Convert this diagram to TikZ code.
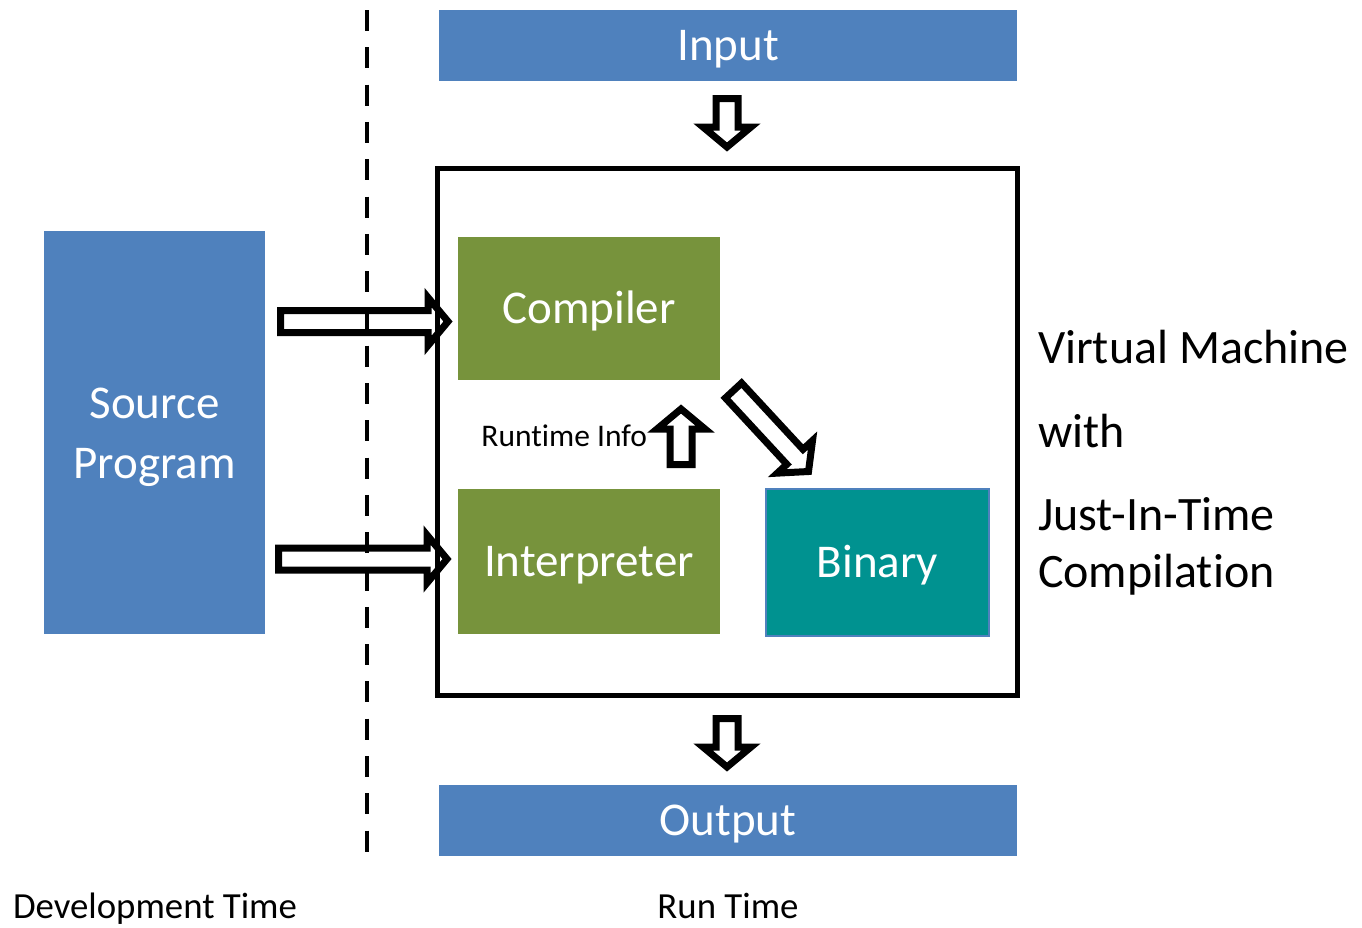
\documentclass[tikz,border=0pt]{standalone}
\usepackage{fontspec}
\setmainfont{Carlito}[Ligatures=NoCommon]
\usetikzlibrary{calc}
\definecolor{vmblue}{HTML}{4F81BD}
\definecolor{vmgreen}{HTML}{77933C}
\definecolor{vmteal}{HTML}{009290}
\begin{document}
\begin{tikzpicture}[x=1pt,y=-1pt,
  box/.style={rectangle, inner sep=0pt, outer sep=0pt, text=white,
    font=\fontsize{47}{60}\selectfont},
  capbox/.style={box, text height=29.7pt, text depth=0pt},
  plain/.style={inner sep=0pt, outer sep=0pt, text=black},
  side/.style={plain, anchor=base west, font=\fontsize{48}{58}\selectfont},
  foot/.style={plain, font=\fontsize{36.8}{44}\selectfont},
  frame/.style={draw=black, line width=5pt, inner sep=0pt, outer sep=0pt},
  divider/.style={line width=4.5pt, dash pattern=on 21pt off 16.3pt},
  % hollow block arrow running from the start point to the tip
  hollow/.style={draw=black, fill=white, line width=7pt, line join=miter, miter limit=10,
    to path={let \p1=($(\tikztotarget)-(\tikztostart)$), \n2={atan2(\y1,\x1)} in
      ($(\tikztostart)+(\n2+90:11pt)$)
      -- ($(\tikztotarget)+(\n2+180:20pt)+(\n2+90:11pt)$)
      -- ($(\tikztotarget)+(\n2+180:20pt)+(\n2+90:24pt)$)
      -- (\tikztotarget)
      -- ($(\tikztotarget)+(\n2+180:20pt)+(\n2-90:24pt)$)
      -- ($(\tikztotarget)+(\n2+180:20pt)+(\n2-90:11pt)$)
      -- ($(\tikztostart)+(\n2-90:11pt)$) -- cycle}},
]
\fill[white] (0,0) rectangle (1362,927);
\useasboundingbox (0,0) rectangle (1362,927);

% end points of the block arrows
\coordinate (srcA) at (280.5,321.5);
\coordinate (compA) at (448,321.5);
\coordinate (srcB) at (278.5,559);
\coordinate (interpA) at (447,559);
\coordinate (inA) at (727,98.5);
\coordinate (vmA) at (727,147);
\coordinate (vmB) at (727,718.5);
\coordinate (outA) at (727,767);
\coordinate (interpB) at (681,464.5);
\coordinate (compB) at (681,409);
\coordinate (compC) at (733.5,390.5);
\coordinate (binA) at (808.5,471.5);

\draw[hollow] (srcA) to (compA);
\draw[hollow] (srcB) to (interpA);
\draw[hollow] (inA) to (vmA);
\draw[hollow] (vmB) to (outA);
\draw[hollow] (interpB) to (compB);
\draw[hollow] (compC) to (binA);

% development time / run time divider
\coordinate (dtop) at (367,10);
\coordinate (dbot) at (367,853);
\draw[divider] (dtop) -- (dbot);

% boxes
\node[capbox, fill=vmblue, minimum width=578pt, minimum height=71pt] (in) at (728,45.5) {Input};
\node[capbox, fill=vmblue, minimum width=578pt, minimum height=71pt] (out) at (728,820.5) {Output};
\node[box, fill=vmblue, minimum width=221pt, minimum height=403pt, text height=100pt, text depth=9pt] (src) at (154.5,432.5)
  {\begin{tabular}[b]{@{}c@{}}Source\\Program\end{tabular}};
\node[frame, minimum width=580pt, minimum height=527pt] (vm) at (727.5,432) {};
\node[capbox, fill=vmgreen, minimum width=262pt, minimum height=143pt] (comp) at (589,308.5) {Compiler};
\node[capbox, fill=vmgreen, minimum width=262pt, minimum height=145pt] (interp) at (589,561.5) {Interpreter};
\node[capbox, fill=vmteal, draw=vmblue, line width=1.5pt, minimum width=223pt, minimum height=147pt] (bin) at (877.5,562.5) {Binary};

% labels
\node[plain, anchor=base east, font=\fontsize{31.5}{38}\selectfont] (rti) at (647,446) {Runtime Info};
\node[side] (vm1) at (1038,363) {Virtual Machine};
\node[side] (vm2) at (1038,447) {with};
\node[side] (vm3) at (1038,530) {Just-In-Time};
\node[side] (vm4) at (1038,587) {Compilation};
\node[foot, anchor=base west] (dev) at (13,918) {Development Time};
\node[foot, anchor=base] (run) at (728,918) {Run Time};
\end{tikzpicture}
\end{document}
